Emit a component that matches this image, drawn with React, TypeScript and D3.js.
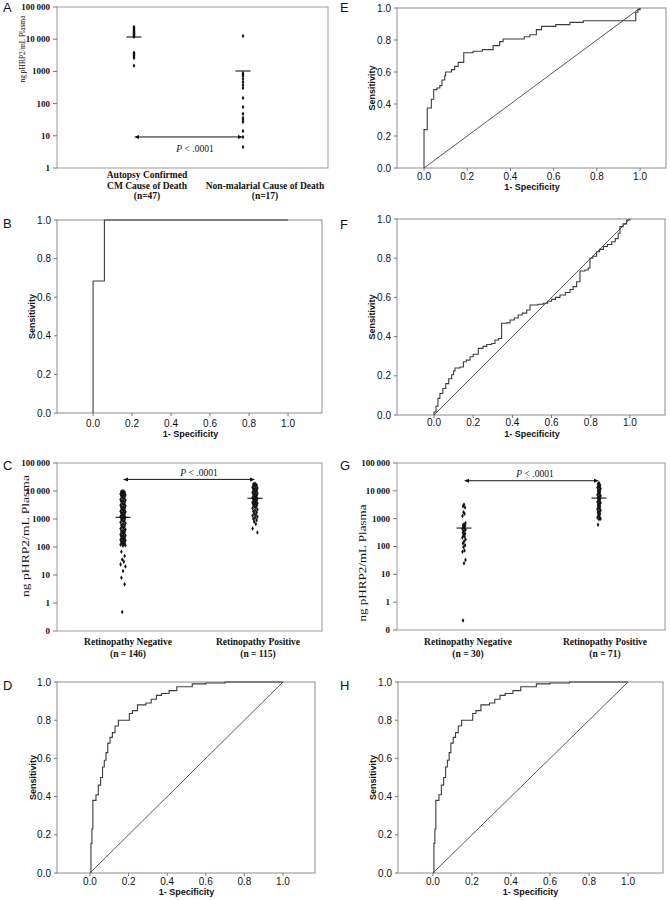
import React from "react";
import * as d3 from "d3";

const SANS = '"Liberation Sans", Arial, Helvetica, sans-serif';
const SERIF = '"Liberation Serif", "Times New Roman", Times, serif';

// ---------------- Panel A data ----------------
const aCategories = ["Autopsy Confirmed CM Cause of Death", "Non-malarial Cause of Death"];
const aCategoryLines = [
  ["Autopsy Confirmed", "CM Cause of Death", "(n=47)"],
  ["Non-malarial Cause of Death", "(n=17)"],
];
const aAutopsyConfirmed = [
  24000, 22500, 21000, 20000, 19000, 18000, 17000, 16000, 15500, 15000, 14500, 14000, 13500,
  13000, 12500, 12000, 3800, 3600, 3400, 3200, 3000, 2800, 2600, 1500,
];
const aNonMalarial = [12500, 890, 800, 720, 580, 470, 380, 305, 150, 78, 48, 36, 31, 27, 14, 9.2, 4.5];
const aMeans = [11700, 1030];
const aArrowValue = 9.2;
const aTickValues = [1, 10, 100, 1000, 10000, 100000];
const aTickLabels = ["1", "10", "100", "1000", "10\u2009000", "100\u2009000"];

// ---------------- Panel C data ----------------
const cCategories = ["Retinopathy Negative", "Retinopathy Positive"];
const cCategoryLines = [
  ["Retinopathy Negative", "(n = 146)"],
  ["Retinopathy Positive", "(n = 115)"],
];
const cNegative = [
  10000, 9500, 9000, 8600, 8200, 7800, 7400, 7000, 6600, 6200, 5800, 5400, 5000, 4700, 4400,
  4100, 3800, 3500, 3300, 3100, 2900, 2700, 2500, 2350, 2200, 2050, 1900, 1800, 1700, 1600,
  1500, 1400, 1300, 1220, 1150, 1080, 1000, 940, 880, 820, 760, 700, 650, 600, 560, 520, 480,
  450, 420, 390, 360, 340, 320, 300, 280, 260, 245, 230, 215, 200, 190, 180, 170, 160, 150, 142,
  135, 128, 121, 115, 110, 68, 48, 36, 30, 24, 20, 14, 8, 4.7, 0.48,
];
const cPositive = [
  18600, 17500, 16500, 15500, 14500, 13500, 12800, 12000, 11300, 10600, 10000, 9400, 8800, 8300,
  7800, 7300, 6900, 6500, 6100, 5700, 5400, 5100, 4800, 4500, 4200, 4000, 3800, 3600, 3400, 3200,
  3000, 2800, 2600, 2400, 2200, 2000, 1850, 1700, 1550, 1400, 1300, 1200, 1100, 1000, 910, 800,
  660, 460, 330,
];
const cMeans = [1150, 5500];
const cArrowValue = 26000;

// ---------------- Panel G data ----------------
const gCategories = ["Retinopathy Negative", "Retinopathy Positive"];
const gCategoryLines = [
  ["Retinopathy Negative", "(n = 30)"],
  ["Retinopathy Positive", "(n = 71)"],
];
const gNegative = [
  3200, 2800, 2500, 1700, 1500, 1250, 700, 620, 580, 540, 500, 470, 430, 400, 360, 320, 290, 260,
  230, 210, 180, 150, 130, 110, 95, 72, 65, 33, 25, 0.22,
];
const gPositive = [
  19000, 17500, 16000, 15000, 14000, 13000, 12000, 11000, 10000, 9200, 8500, 7800, 7200, 6600,
  6100, 5600, 5200, 4800, 4400, 4000, 3700, 3400, 3100, 2800, 2600, 2400, 2200, 2000, 1800, 1650,
  1500, 1350, 1200, 1100, 1000, 950, 600,
];
const gMeans = [460, 5500];
const gArrowValue = 23000;

const logTickValues = [0.1, 1, 10, 100, 1000, 10000, 100000];
const logTickLabels = ["0", "1", "10", "100", "1000", "10\u2009000", "100\u2009000"];

// ---------------- ROC data (1 - specificity, sensitivity) ----------------
const rocB: [number, number][] = [
  [0, 0], [0, 0.684], [0.058, 1.0], [1.0, 1.0],
];
const rocD: [number, number][] = [
  [0.005, 0], [0.005, 0.155], [0.01, 0.23], [0.015, 0.38], [0.031, 0.41], [0.043, 0.46],
  [0.055, 0.5], [0.065, 0.555], [0.074, 0.59], [0.083, 0.63], [0.092, 0.68], [0.104, 0.71],
  [0.116, 0.735], [0.13, 0.77], [0.147, 0.8], [0.204, 0.835], [0.22, 0.85], [0.246, 0.88],
  [0.29, 0.89], [0.317, 0.91], [0.344, 0.93], [0.37, 0.94], [0.41, 0.955], [0.45, 0.975],
  [0.53, 0.99], [0.6, 0.995], [0.7, 1.0], [1.0, 1.0],
];
const rocE: [number, number][] = [
  [0, 0], [0, 0.24], [0.015, 0.375], [0.034, 0.43], [0.045, 0.49], [0.06, 0.5], [0.073, 0.515],
  [0.083, 0.55], [0.096, 0.577], [0.1, 0.6], [0.127, 0.615], [0.142, 0.635], [0.158, 0.66],
  [0.184, 0.72], [0.227, 0.73], [0.27, 0.74], [0.32, 0.765], [0.35, 0.79], [0.366, 0.806],
  [0.464, 0.82], [0.49, 0.833], [0.52, 0.865], [0.544, 0.885], [0.61, 0.896], [0.675, 0.91],
  [0.737, 0.92], [0.98, 0.973], [0.99, 0.99], [1.0, 1.0],
];
const rocF: [number, number][] = [
  [0, 0], [0, 0.015], [0.01, 0.045], [0.02, 0.085], [0.03, 0.11], [0.045, 0.135], [0.06, 0.16],
  [0.075, 0.185], [0.09, 0.205], [0.1, 0.225], [0.107, 0.24], [0.133, 0.245], [0.15, 0.272],
  [0.165, 0.28], [0.184, 0.297], [0.2, 0.31], [0.226, 0.34], [0.25, 0.35], [0.269, 0.36],
  [0.294, 0.365], [0.311, 0.383], [0.33, 0.39], [0.345, 0.468], [0.37, 0.47], [0.388, 0.485],
  [0.41, 0.495], [0.43, 0.51], [0.45, 0.52], [0.473, 0.536], [0.49, 0.561], [0.53, 0.565],
  [0.558, 0.57], [0.58, 0.58], [0.6, 0.59], [0.62, 0.6], [0.643, 0.612], [0.67, 0.625],
  [0.694, 0.64], [0.71, 0.655], [0.728, 0.68], [0.745, 0.735], [0.77, 0.74], [0.787, 0.75],
  [0.796, 0.8], [0.81, 0.81], [0.83, 0.833], [0.845, 0.845], [0.864, 0.86], [0.885, 0.87],
  [0.907, 0.884], [0.925, 0.9], [0.94, 0.927], [0.949, 0.961], [0.965, 0.975], [0.983, 0.995],
  [1.0, 1.0],
];
const rocH: [number, number][] = rocD;
const rocTickValues = [0, 0.2, 0.4, 0.6, 0.8, 1.0];
const rocTickLabels = ["0.0", "0.2", "0.4", "0.6", "0.8", "1.0"];
const diagonalLine: [number, number][] = [[0, 0], [1, 1]];

type Box = { l: number; t: number; r: number; b: number };

const BOX_STROKE = "#8c8c8c";
const CURVE = "#3c3c3c";

function PanelLetter({ x, y, text }: { x: number; y: number; text: string }) {
  return (
    <text x={x} y={y} fontFamily={SANS} fontSize={13} fill="#111">
      {text}
    </text>
  );
}

function ScatterPanel(props: {
  letter: string; letterX: number; letterBaseline: number; box: Box;
  yDomain: [number, number]; tickValues: number[]; tickLabels: string[];
  categories: string[]; lines: string[][]; groups: number[][]; means: number[];
  colX: [number, number]; labelX: [number, number]; labelBaselines: number[]; labelSize: number;
  arrowValue: number; pX: number; pBaseline: number;
  yTitleX: number; yTitleY: number; yTitleLen: number; yTitleSize: number; jitter: number;
}) {
  const p = props;
  const y = d3.scaleLog().domain(p.yDomain).range([p.box.b, p.box.t]);
  const x = d3.scalePoint<string>().domain(p.categories).range(p.colX);
  const xl = d3.scalePoint<string>().domain(p.categories).range(p.labelX);
  const sym = d3.symbol().type(d3.symbolDiamond).size(6)() as string;
  const ay = y(p.arrowValue);
  const x0 = x(p.categories[0])!;
  const x1 = x(p.categories[1])!;
  const jit = [0, -1, 1, -0.5, 0.5, -1.5, 1.5];
  return (
    <g>
      <PanelLetter x={p.letterX} y={p.letterBaseline} text={p.letter} />
      <rect x={p.box.l} y={p.box.t} width={p.box.r - p.box.l} height={p.box.b - p.box.t}
        fill="none" stroke="#9a9a9a" strokeWidth={1} />
      {p.tickValues.map((v, i) => (
        <g key={i}>
          <line x1={p.box.l - 4} x2={p.box.l} y1={y(v)} y2={y(v)} stroke="#777" />
          <text x={p.box.l - 7} y={y(v)} dy="0.33em" textAnchor="end" fontFamily={SERIF}
            fontWeight="bold" fontSize={9} fill="#111">{p.tickLabels[i]}</text>
        </g>
      ))}
      <text transform={`translate(${p.yTitleX},${p.yTitleY}) rotate(-90)`} textAnchor="middle"
        dy="0.35em" fontFamily={SERIF} fontSize={p.yTitleSize} fill="#111"
        textLength={p.yTitleLen} lengthAdjust="spacingAndGlyphs">ng pHRP2/mL Plasma</text>
      {p.groups.map((vals, gi) =>
        vals.map((v, i) => (
          <path key={`${gi}-${i}`} d={sym}
            transform={`translate(${x(p.categories[gi])! + jit[i % jit.length] * p.jitter},${y(v)})`}
            fill="#111" />
        ))
      )}
      {p.means.map((m, i) => (
        <line key={i} x1={x(p.categories[i])! - 7.5} x2={x(p.categories[i])! + 7.5}
          y1={y(m)} y2={y(m)} stroke="#111" strokeWidth={1.1} />
      ))}
      <line x1={x0 + 4} x2={x1 - 4} y1={ay} y2={ay} stroke="#111" strokeWidth={1} />
      <path d={`M${x0},${ay}L${x0 + 5},${ay - 2}L${x0 + 5},${ay + 2}Z`} fill="#111" />
      <path d={`M${x1},${ay}L${x1 - 5},${ay - 2}L${x1 - 5},${ay + 2}Z`} fill="#111" />
      <text x={p.pX} y={p.pBaseline} textAnchor="middle" fontFamily={SERIF} fontSize={9.5} fill="#111">
        <tspan fontStyle="italic">P</tspan> &lt; .0001
      </text>
      {p.lines.map((ls, ci) => {
        const n = p.labelBaselines.length;
        return ls.map((s, li) => (
          <text key={`${ci}-${li}`} x={xl(p.categories[ci])!}
            y={p.labelBaselines[n - ls.length + li]} textAnchor="middle" fontFamily={SERIF}
            fontWeight="bold" fontSize={p.labelSize} fill="#111">{s}</text>
        ));
      })}
    </g>
  );
}

function RocPanel(props: {
  letter: string; letterX: number; letterBaseline: number; box: Box;
  xDomain: [number, number]; data: [number, number][]; diagonal: boolean;
  yTitleX: number; xTickBaseline: number; xTitleBaseline: number;
}) {
  const p = props;
  const x = d3.scaleLinear().domain(p.xDomain).range([p.box.l, p.box.r]);
  const y = d3.scaleLinear().domain([0, 1]).range([p.box.b, p.box.t]);
  const step = d3.line<[number, number]>().x((d) => x(d[0])).y((d) => y(d[1])).curve(d3.curveStepAfter);
  const straight = d3.line<[number, number]>().x((d) => x(d[0])).y((d) => y(d[1]));
  const midY = (p.box.t + p.box.b) / 2;
  return (
    <g>
      <PanelLetter x={p.letterX} y={p.letterBaseline} text={p.letter} />
      <rect x={p.box.l} y={p.box.t} width={p.box.r - p.box.l} height={p.box.b - p.box.t}
        fill="none" stroke={BOX_STROKE} strokeWidth={1} />
      {rocTickValues.map((v, i) => (
        <g key={`y${i}`}>
          <line x1={p.box.l - 3} x2={p.box.l} y1={y(v)} y2={y(v)} stroke="#777" />
          <text x={p.box.l - 6} y={y(v)} dy="0.35em" textAnchor="end" fontFamily={SANS}
            fontSize={10} fill="#111">{rocTickLabels[i]}</text>
        </g>
      ))}
      {rocTickValues.map((v, i) => (
        <g key={`x${i}`}>
          <line x1={x(v)} x2={x(v)} y1={p.box.b} y2={p.box.b + 3} stroke="#777" />
          <text x={x(v)} y={p.xTickBaseline} textAnchor="middle" fontFamily={SANS}
            fontSize={10} fill="#111">{rocTickLabels[i]}</text>
        </g>
      ))}
      <text transform={`translate(${p.yTitleX},${midY}) rotate(-90)`} textAnchor="middle"
        dy="0.35em" fontFamily={SANS} fontWeight="bold" fontSize={9} fill="#111">Sensitivity</text>
      <text x={x(0.5)} y={p.xTitleBaseline} textAnchor="middle" fontFamily={SANS}
        fontWeight="bold" fontSize={9} fill="#111">1- Specificity</text>
      {p.diagonal && (
        <path d={straight(diagonalLine) as string} fill="none" stroke="#444" strokeWidth={0.9} />
      )}
      <path d={step(p.data) as string} fill="none" stroke={CURVE} strokeWidth={1.1} />
    </g>
  );
}

export default function App() {
  return (
    <div>
      <style>{`body{margin:0;background:#fff}`}</style>
      <svg width={670} height={900} viewBox="0 0 670 900" style={{ display: "block", background: "#fff" }}>
        <ScatterPanel letter="A" letterX={3} letterBaseline={12} box={{ l: 57, t: 7, r: 328, b: 168 }}
          yDomain={[1, 100000]} tickValues={aTickValues} tickLabels={aTickLabels}
          categories={aCategories} lines={aCategoryLines} groups={[aAutopsyConfirmed, aNonMalarial]}
          means={aMeans} colX={[134, 243]} labelX={[147, 265]} labelBaselines={[178, 188.5, 199]}
          labelSize={9.5}
          arrowValue={aArrowValue} pX={195} pBaseline={152}
          yTitleX={22} yTitleY={49} yTitleLen={67} yTitleSize={9} jitter={0} />
        <RocPanel letter="B" letterX={3} letterBaseline={228} box={{ l: 57, t: 220, r: 322, b: 413 }}
          xDomain={[-0.185, 1.174]} data={rocB} diagonal={false} yTitleX={32}
          xTickBaseline={427} xTitleBaseline={437} />
        <ScatterPanel letter="C" letterX={3} letterBaseline={470} box={{ l: 57, t: 463, r: 322, b: 631 }}
          yDomain={[0.1, 100000]} tickValues={logTickValues} tickLabels={logTickLabels}
          categories={cCategories} lines={cCategoryLines} groups={[cNegative, cPositive]}
          means={cMeans} colX={[123, 255]} labelX={[128, 258]} labelBaselines={[645, 657]}
          labelSize={9.5}
          arrowValue={cArrowValue} pX={199} pBaseline={476}
          yTitleX={25} yTitleY={536} yTitleLen={122} yTitleSize={10.5} jitter={1.6} />
        <RocPanel letter="D" letterX={3} letterBaseline={690} box={{ l: 57, t: 682, r: 315, b: 873 }}
          xDomain={[-0.171, 1.166]} data={rocD} diagonal={true} yTitleX={33}
          xTickBaseline={885} xTitleBaseline={895} />
        <RocPanel letter="E" letterX={340} letterBaseline={12} box={{ l: 397, t: 8, r: 666, b: 168 }}
          xDomain={[-0.125, 1.12]} data={rocE} diagonal={true} yTitleX={372}
          xTickBaseline={180} xTitleBaseline={190} />
        <RocPanel letter="F" letterX={340} letterBaseline={229} box={{ l: 397, t: 219, r: 665, b: 415 }}
          xDomain={[-0.189, 1.179]} data={rocF} diagonal={true} yTitleX={372}
          xTickBaseline={426} xTitleBaseline={437} />
        <ScatterPanel letter="G" letterX={340} letterBaseline={470} box={{ l: 397, t: 463, r: 665, b: 630 }}
          yDomain={[0.1, 100000]} tickValues={logTickValues} tickLabels={logTickLabels}
          categories={gCategories} lines={gCategoryLines} groups={[gNegative, gPositive]}
          means={gMeans} colX={[464, 599]} labelX={[468, 605]} labelBaselines={[645, 657]}
          labelSize={9.5}
          arrowValue={gArrowValue} pX={535} pBaseline={477}
          yTitleX={362} yTitleY={563} yTitleLen={117} yTitleSize={10.5} jitter={1} />
        <RocPanel letter="H" letterX={340} letterBaseline={690} box={{ l: 398, t: 682, r: 663, b: 873 }}
          xDomain={[-0.179, 1.179]} data={rocH} diagonal={true} yTitleX={373}
          xTickBaseline={885} xTitleBaseline={895} />
      </svg>
    </div>
  );
}
